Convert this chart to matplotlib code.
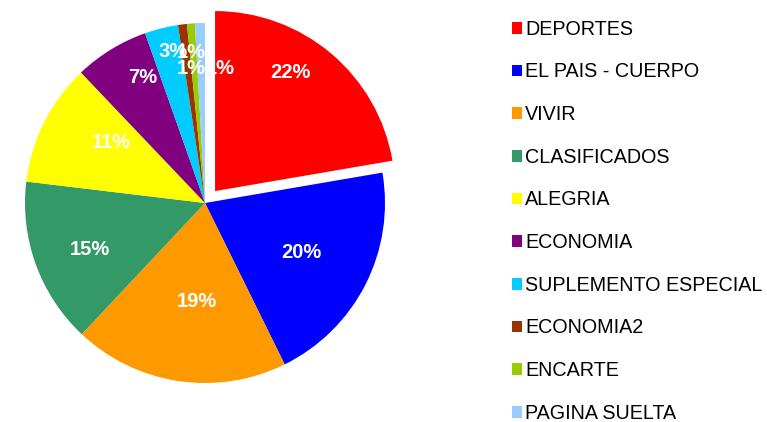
import matplotlib.pyplot as plt
import numpy as np

# Data (percent of total)
secciones = ['DEPORTES', 'EL PAIS - CUERPO', 'VIVIR', 'CLASIFICADOS', 'ALEGRIA',
             'ECONOMIA', 'SUPLEMENTO ESPECIAL', 'ECONOMIA2', 'ENCARTE',
             'PAGINA SUELTA']
valores = [22.3, 20.4, 19.3, 14.9, 11.0, 6.7, 3.0, 0.8, 0.7, 0.9]
colores = ['#FF0000', '#0000FF', '#FF9900', '#339966', '#FFFF00',
           '#800080', '#00CCFF', '#993300', '#99CC00', '#99CCFF']

# label placement (radius factor, angle nudge in degrees), like Excel best fit
lab_r = [0.78, 0.60, 0.55, 0.69, 0.62, 0.78, 0.86, 0.84, 0.75, 0.75]
lab_da = [7.5, 0, 4, 2, -6, -5, -2, -2, 1.5, -8]

plt.rcParams['font.family'] = ['Liberation Sans', 'DejaVu Sans']

fig = plt.figure(figsize=(7.67, 4.22), dpi=100)
ax = fig.add_axes([0, 0, 1, 1])

R = 180
# pie explode is in data units here (pixels)
explode = [15.6] + [0] * (len(valores) - 1)
wedges, _ = ax.pie(valores, colors=colores, startangle=90, counterclock=False,
                   explode=explode, radius=R, center=(205, 219),
                   wedgeprops=dict(linewidth=0), frame=True)
ax.set_xlim(0, 767)
ax.set_ylim(0, 422)
ax.axis('off')

total = sum(valores)
for w, v, rf, da in zip(wedges, valores, lab_r, lab_da):
    ang = np.deg2rad((w.theta1 + w.theta2) / 2 + da)
    cx, cy = w.center
    ax.text(cx + rf * R * np.cos(ang), cy + rf * R * np.sin(ang),
            '%d%%' % round(100 * v / total), color='white', fontsize=14.5,
            fontweight='bold', ha='center', va='center')

ax.legend(wedges, secciones, loc='upper left',
          bbox_to_anchor=(498 / 767, 1 - 6 / 422),
          frameon=False, fontsize=14.2, labelspacing=1.20, handlelength=0.52,
          handleheight=0.52, handletextpad=0.15, borderaxespad=0.3)

fig.savefig('out.png', dpi=100)
